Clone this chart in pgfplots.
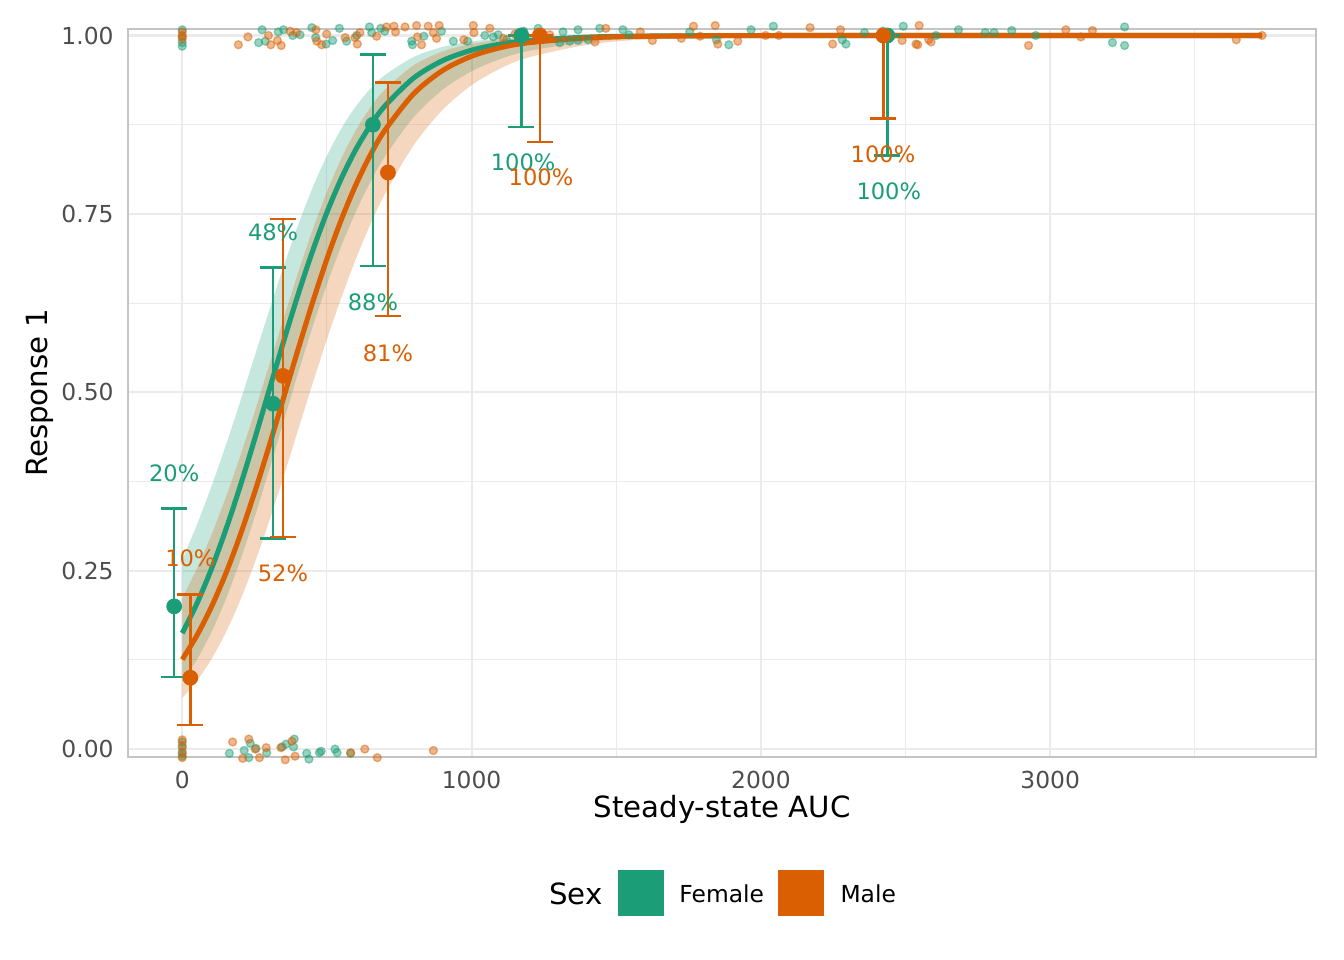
\documentclass[border=0pt]{standalone}
\usepackage{pgfplots}
\pgfplotsset{compat=1.18}
\usepackage{pgfplotstable}
\usepgfplotslibrary{fillbetween}
\usepackage{fontspec}
\setmainfont{DejaVu Sans}
\definecolor{fem}{HTML}{1B9E77}
\definecolor{mal}{HTML}{D95F02}
\definecolor{tickgray}{HTML}{4D4D4D}
\definecolor{gridgray}{HTML}{EBEBEB}
\definecolor{bordergray}{HTML}{C4C4C4}

% fitted curves: x, fit, lower, upper
\pgfplotstableread{
x c lo hi
0 0.1625 0.0943 0.2656
50 0.2034 0.1249 0.3137
100 0.2516 0.1632 0.3670
150 0.3068 0.2095 0.4250
200 0.3682 0.2638 0.4866
250 0.4341 0.3249 0.5502
300 0.5025 0.3907 0.6140
350 0.5708 0.4588 0.6759
400 0.6365 0.5264 0.7338
450 0.6974 0.5911 0.7861
500 0.7521 0.6510 0.8315
550 0.7998 0.7052 0.8696
600 0.8403 0.7531 0.9007
650 0.8738 0.7946 0.9253
700 0.9011 0.8302 0.9444
800 0.9405 0.8856 0.9699
900 0.9648 0.9240 0.9840
1000 0.9794 0.9499 0.9917
1100 0.9880 0.9672 0.9957
1200 0.9930 0.9786 0.9978
1400 0.9977 0.9909 0.9994
1600 0.9992 0.9962 0.9998
2000 0.9999 0.9993 1.0000
2500 1.0000 0.9999 1.0000
3000 1.0000 1.0000 1.0000
3732 1.0000 1.0000 1.0000
}\femcurve

\pgfplotstableread{
x c lo hi
0 0.1256 0.0716 0.2113
50 0.1588 0.0954 0.2525
100 0.1986 0.1256 0.2994
150 0.2455 0.1631 0.3521
200 0.2994 0.2081 0.4101
250 0.3595 0.2604 0.4723
300 0.4243 0.3188 0.5372
350 0.4919 0.3817 0.6029
400 0.5597 0.4467 0.6669
450 0.6254 0.5115 0.7269
500 0.6868 0.5741 0.7809
550 0.7422 0.6329 0.8278
600 0.7908 0.6868 0.8670
650 0.8324 0.7351 0.8989
700 0.8670 0.7777 0.9240
800 0.9184 0.8464 0.9583
900 0.9510 0.8959 0.9776
1000 0.9710 0.9304 0.9882
1100 0.9830 0.9539 0.9938
1200 0.9900 0.9696 0.9968
1400 0.9966 0.9869 0.9991
1600 0.9989 0.9944 0.9998
2000 0.9999 0.9990 1.0000
2500 1.0000 0.9999 1.0000
3000 1.0000 1.0000 1.0000
3732 1.0000 1.0000 1.0000
}\malcurve

% binned means with confidence limits
\pgfplotstableread{
x y ep em
-28 0.200 0.137 0.099
314 0.484 0.191 0.189
659 0.875 0.098 0.198
1172 1.000 0.000 0.128
2437 1.000 0.000 0.168
}\femmean

\pgfplotstableread{
x y ep em
28 0.100 0.117 0.066
348 0.523 0.220 0.226
711 0.808 0.126 0.201
1236 1.000 0.000 0.149
2423 1.000 0.000 0.116
}\malmean

% observed responses (jittered)
\pgfplotstableread{
x y
0 1.008
0 0.998
0 0.990
0 0.985
264 0.990
276 1.008
287 0.992
332 1.005
350 1.008
382 1.000
407 1.001
448 1.011
461 0.997
497 0.988
520 0.993
543 1.010
568 0.992
603 1.000
647 1.012
655 1.004
686 1.010
700 1.006
793 0.992
796 0.987
835 0.999
896 1.006
937 0.992
986 0.992
1046 1.000
1075 0.998
1092 1.001
1121 0.994
1180 1.006
1230 1.010
1305 0.990
1316 1.005
1339 0.992
1368 1.008
1368 0.993
1403 0.994
1443 1.010
1523 1.008
1544 1.001
1754 1.005
1846 0.994
1889 0.987
1966 1.008
2043 1.013
2281 0.994
2294 0.988
2358 1.004
2421 1.006
2492 1.013
2605 1.000
2683 1.008
2775 1.004
2806 1.004
2867 1.007
2950 1.000
3215 0.990
3257 1.012
3257 0.986
0 0.010
0 0.002
0 -0.006
0 -0.010
163 -0.006
214 -0.002
230 -0.012
235 0.008
255 0.001
292 -0.005
345 0.003
359 0.007
385 0.003
387 0.014
430 -0.006
438 -0.014
474 -0.005
480 -0.003
528 0.000
535 -0.005
582 -0.006
}\fempts

\pgfplotstableread{
x y
0 1.005
0 1.000
0 0.995
194 0.987
227 0.998
298 1.000
306 0.987
329 0.993
342 0.986
373 1.006
395 1.004
462 1.008
465 0.992
482 0.987
499 1.002
563 0.997
597 0.997
605 0.988
614 1.004
672 0.999
706 1.012
732 1.013
737 1.005
770 1.012
810 1.014
813 0.998
827 0.987
850 1.013
868 1.004
879 0.996
888 1.014
973 0.994
1006 1.014
1008 1.004
1063 1.010
1110 0.996
1150 1.002
1270 1.001
1426 0.991
1464 1.010
1583 1.005
1625 0.993
1725 0.996
1767 1.013
1790 0.999
1842 1.014
1851 0.988
1920 0.992
2016 1.000
2062 1.000
2170 1.011
2248 0.988
2275 1.008
2488 0.993
2536 0.988
2542 0.987
2547 1.014
2580 0.994
2588 0.991
2925 0.986
3054 1.008
3106 0.998
3146 1.007
3643 0.994
3732 1.000
0 0.013
0 0.005
0 -0.004
0 -0.012
174 0.010
209 -0.013
230 0.014
252 0.000
267 -0.012
290 0.002
341 0.002
356 -0.015
379 0.011
390 -0.010
582 -0.005
631 0.000
674 -0.012
868 -0.002
}\malpts

\begin{document}
\begin{tikzpicture}
\begin{axis}[
  at={(48.1bp,76.2bp)}, anchor=south west,
  scale only axis, width=445.4bp, height=273bp,
  xmin=-186.6, xmax=3918.6, ymin=-0.0108, ymax=1.0094,
  clip=false,
  xtick={0,1000,2000,3000}, xticklabels={0,1000,2000,3000},
  ytick={0,0.25,0.5,0.75,1}, yticklabels={0.00,0.25,0.50,0.75,1.00},
  minor xtick={500,1500,2500,3500},
  minor ytick={0.125,0.375,0.625,0.875},
  grid=both,
  major grid style={draw=gridgray, line width=0.8bp},
  minor grid style={draw=gridgray, line width=0.4bp},
  major tick length=0pt, minor tick length=0pt,
  axis line style={draw=bordergray, line width=0.9bp},
  tick label style={font=\fontsize{8.8}{10}\selectfont, text=tickgray},
  xticklabel style={yshift=-2bp},
  yticklabel style={xshift=-2bp},
  xlabel={Steady-state AUC}, ylabel={Response 1},
  label style={font=\fontsize{11}{13}\selectfont},
  xlabel style={at={(axis description cs:0.5,-0.0729)}, anchor=center},
  ylabel style={at={(axis description cs:-0.0743,0.5)}, anchor=center},
]
% observed points
\addplot[only marks, mark=*, mark size=1.5bp,
  mark options={fill=fem, draw=fem, opacity=0.45, line width=0.5bp}]
  table[x=x,y=y]{\fempts};
\addplot[only marks, mark=*, mark size=1.5bp,
  mark options={fill=mal, draw=mal, opacity=0.45, line width=0.5bp}]
  table[x=x,y=y]{\malpts};
% ribbons
\addplot[draw=none, smooth, name path=fl] table[x=x,y=lo]{\femcurve};
\addplot[draw=none, smooth, name path=fh] table[x=x,y=hi]{\femcurve};
\addplot[fill=fem, fill opacity=0.25, draw=none] fill between[of=fl and fh];
\addplot[draw=none, smooth, name path=ml] table[x=x,y=lo]{\malcurve};
\addplot[draw=none, smooth, name path=mh] table[x=x,y=hi]{\malcurve};
\addplot[fill=mal, fill opacity=0.25, draw=none] fill between[of=ml and mh];
% fitted curves
\addplot[fem, line width=1.9bp, smooth] table[x=x,y=c]{\femcurve};
\addplot[mal, line width=1.9bp, smooth] table[x=x,y=c]{\malcurve};
% binned means
\addplot[fem, only marks, mark=*, mark size=2.75bp, mark options={fill=fem, draw=fem},
  error bars/.cd, y dir=both, y explicit,
  error bar style={line width=0.95bp, fem},
  error mark options={rotate=90, mark size=4.9bp, line width=0.95bp, fem}]
  table[x=x, y=y, y error plus=ep, y error minus=em]{\femmean};
\addplot[mal, only marks, mark=*, mark size=2.75bp, mark options={fill=mal, draw=mal},
  error bars/.cd, y dir=both, y explicit,
  error bar style={line width=0.95bp, mal},
  error mark options={rotate=90, mark size=4.9bp, line width=0.95bp, mal}]
  table[x=x, y=y, y error plus=ep, y error minus=em]{\malmean};
% percentage labels
\begin{scope}[every node/.style={font=\fontsize{8.5}{10}\selectfont, inner sep=0pt}]
\node[text=fem] at (axis cs:-28,0.386) {20\%};
\node[text=fem] at (axis cs:314,0.724) {48\%};
\node[text=fem] at (axis cs:659,0.626) {88\%};
\node[text=fem] at (axis cs:1178,0.822) {100\%};
\node[text=fem] at (axis cs:2442,0.781) {100\%};
\node[text=mal] at (axis cs:28,0.268) {10\%};
\node[text=mal] at (axis cs:348,0.247) {52\%};
\node[text=mal] at (axis cs:711,0.555) {81\%};
\node[text=mal] at (axis cs:1240,0.801) {100\%};
\node[text=mal] at (axis cs:2422,0.833) {100\%};
\end{scope}
\end{axis}
% legend
\fill[fem] (231.75bp,16.5bp) rectangle (249bp,33.75bp);
\fill[mal] (291.75bp,16.5bp) rectangle (309bp,33.75bp);
\node[font=\fontsize{11}{13}\selectfont, inner sep=0pt] at (216bp,24.75bp) {Sex};
\node[anchor=west, inner sep=0pt, font=\fontsize{8.8}{10}\selectfont] at (254.6bp,24.75bp) {Female};
\node[anchor=west, inner sep=0pt, font=\fontsize{8.8}{10}\selectfont] at (315bp,24.75bp) {Male};
\path (0,0) rectangle (504bp,360bp);
\end{tikzpicture}
\end{document}
